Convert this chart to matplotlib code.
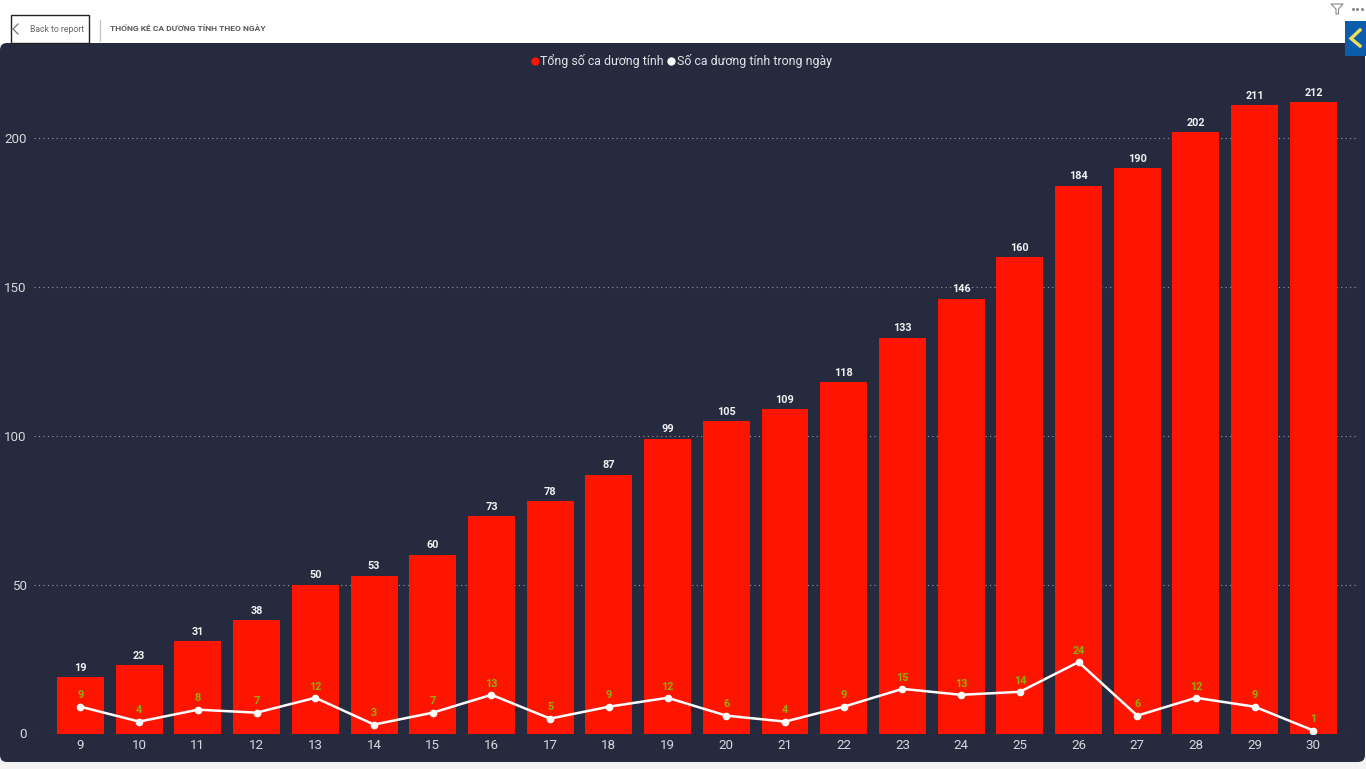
import matplotlib
matplotlib.use("Agg")
import matplotlib.pyplot as plt
from matplotlib.lines import Line2D
from matplotlib.patches import FancyBboxPatch, Rectangle, Polygon

days = [9, 10, 11, 12, 13, 14, 15, 16, 17, 18, 19, 20, 21, 22, 23, 24, 25, 26, 27, 28, 29, 30]
total_cases = [19, 23, 31, 38, 50, 53, 60, 73, 78, 87, 99, 105, 109, 118, 133, 146, 160, 184, 190, 202, 211, 212]
daily_cases = [9, 4, 8, 7, 12, 3, 7, 13, 5, 9, 12, 6, 4, 9, 15, 13, 14, 24, 6, 12, 9, 1]
y_ticks = [0, 50, 100, 150, 200]

W, H = 1366, 769
PANEL = "#252a3e"

plt.rcParams["font.family"] = ["Roboto", "DejaVu Sans"]

fig = plt.figure(figsize=(W / 100, H / 100), dpi=100, facecolor="white")

# page chrome, drawn in pixel coordinates
bg = fig.add_axes([0, 0, 1, 1])
bg.set_xlim(0, W)
bg.set_ylim(H, 0)
bg.axis("off")
bg.add_patch(Rectangle((0, 755), W, 14, fc="#f3f3f3", ec="none"))
bg.add_patch(FancyBboxPatch((0, 43), W - 1, 719, boxstyle="round,pad=0,rounding_size=7", fc=PANEL, ec="none"))
bg.add_patch(Rectangle((10.5, 14.5), 78, 28, fc="white", ec="#222222", lw=1))
bg.plot([18, 13, 18], [24, 29, 34], color="#777777", lw=0.9)
bg.text(30, 29, "Back to report", fontsize=6.2, color="#666666", va="center")
bg.plot([99.5, 99.5], [20, 41], color="#c8c8c8", lw=1)
bg.text(110.5, 28.5, "THỐNG KÊ CA DƯƠNG TÍNH THEO NGÀY", fontsize=6.1, fontweight="bold",
        color="#5a5a5a", va="center")

# filter icon and menu dots
bg.add_patch(Polygon([(1331, 4), (1343, 4), (1338.5, 9), (1338.5, 14), (1336, 14), (1336, 9)],
                     fc="white", ec="#8a8a8a", lw=0.8))
bg.plot([1352.5, 1357, 1361.5], [8.5, 8.5, 8.5], ls="none", marker="o", ms=1.2, color="#8a8a8a")

# collapse tab
bg.add_patch(Rectangle((1345, 21), 21, 35, fc="#0b5cab", ec="none"))
bg.plot([1360, 1351, 1360], [30, 38.5, 46], color="#f2dc5d", lw=2.4, solid_joinstyle="miter")

# chart area: left 33.5, right 1358, top 76, bottom 733.5
ax = fig.add_axes([33.5 / W, 1 - 733.5 / H, 1324.5 / W, (733.5 - 76) / H])
ax.patch.set_alpha(0)
x = list(range(len(days)))
ax.set_xlim(-0.8, 21.76)
ax.set_ylim(0, 220.9)

ax.grid(axis="y", color="#9a9ca6", ls=(0, (1, 3)), lw=0.8)
ax.set_axisbelow(True)
for side in ax.spines:
    ax.spines[side].set_visible(False)

ax.bar(x, total_cases, width=0.8, color="#fd1500", zorder=2)
ax.plot(x, daily_cases, color="white", lw=1.8, marker="o", ms=4.5, zorder=3)

for i in x:
    ax.annotate(str(total_cases[i]), (i, total_cases[i]), xytext=(0, 3.2), textcoords="offset points",
                ha="center", va="bottom", fontsize=7.8, fontweight="bold", color="#f0f0f0", zorder=4)
    ax.annotate(str(daily_cases[i]), (i, daily_cases[i]), xytext=(0, 4.5), textcoords="offset points",
                ha="center", va="bottom", fontsize=7.8, fontweight="bold", color="#8fb000", zorder=4)

ax.set_xticks(x)
ax.set_xticklabels(days)
ax.set_yticks(y_ticks)
ax.tick_params(axis="both", length=0, labelsize=9.6, labelcolor="#d8d8dc")
ax.tick_params(axis="x", pad=4)
ax.tick_params(axis="y", pad=5)

handles = [
    Line2D([], [], ls="none", marker="o", ms=5, color="#fd1500"),
    Line2D([], [], ls="none", marker="o", ms=5, color="white"),
]
fig.legend(handles, ["Tổng số ca dương tính", "Số ca dương tính trong ngày"], ncol=2,
           loc="center", bbox_to_anchor=(681.5 / W, 1 - 61 / H), frameon=False, fontsize=8.9,
           labelcolor="#e4e4e8", handlelength=0.6, handletextpad=0.15, columnspacing=0.3, borderpad=0)

fig.savefig("out.png", dpi=100, facecolor="white")
